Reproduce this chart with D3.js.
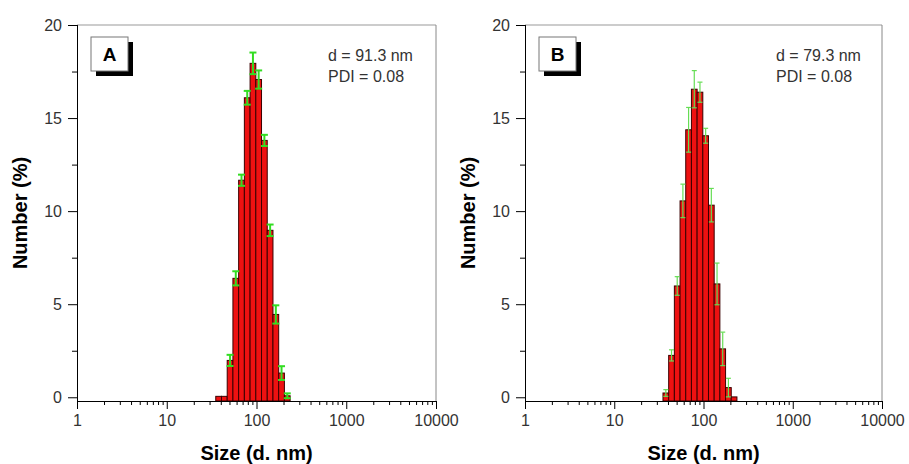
<!DOCTYPE html>
<html>
<head>
<meta charset="utf-8">
<script src="https://cdn.jsdelivr.net/npm/d3@7"></script>
<style>
  body { margin: 0; background: #fff; }
  svg { font-family: "Liberation Sans", Arial, sans-serif; }
</style>
</head>
<body>
<div id="chart"></div>
<script>
// ----- Data ----- //

// size bins (d. nm), same for both samples
const sizes = [37.84, 43.82, 50.75, 58.77, 68.06, 78.82, 91.28, 105.7, 122.4, 141.8, 164.2, 190.1, 220.2];

// sample A
const numberA = [0.05, 0.05, 1.98, 6.39, 11.66, 16.09, 17.94, 17.07, 13.8, 8.97, 4.45, 1.3, 0.08];
const errorA = [0, 0, 0.3, 0.38, 0.3, 0.37, 0.58, 0.49, 0.3, 0.31, 0.49, 0.37, 0.13];

// sample B
const numberB = [0.23, 2.25, 5.98, 10.55, 14.37, 16.55, 16.39, 14.05, 10.32, 6.09, 2.6, 0.52, 0.02];
const errorB = [0.18, 0.3, 0.5, 0.9, 1.2, 1.0, 0.54, 0.4, 0.9, 1.12, 0.9, 0.5, 0];

const xTicks = [1, 10, 100, 1000, 10000];
const yTicks = [0, 5, 10, 15, 20];
const panelLetters = ["A", "B"];
const diameters = ["d = 91.3 nm", "d = 79.3 nm"];
const pdis = ["PDI = 0.08", "PDI = 0.08"];

// ----- Layout ----- //

const svg = d3.select('#chart').append('svg')
    .attr('width', 909)
    .attr('height', 464);

const panels = [
  {left: 77, right: 436, values: numberA, errors: errorA, errColor: '#33dd22', errWidth: 2, cap: 7},
  {left: 525, right: 882, values: numberB, errors: errorB, errColor: '#66dd55', errWidth: 1.2, cap: 5}
];
const plotTop = 25, plotBottom = 401;

// half a bin in log units, so bars touch each other
const halfStep = Math.log10(sizes[1] / sizes[0]) / 2;

function createGraph(p, i) {

  const x = d3.scaleLog()
      .domain([1, 10000])
      .range([p.left, p.right]);

  const y = d3.scaleLinear()
      .domain([-0.2, 20])
      .range([plotBottom, plotTop]);

  const g = svg.append('g');

  // frame (top and right in grey)
  g.append('line')
      .attr('x1', p.left).attr('x2', p.right)
      .attr('y1', plotTop).attr('y2', plotTop)
      .attr('stroke', '#999');
  g.append('line')
      .attr('x1', p.right).attr('x2', p.right)
      .attr('y1', plotTop).attr('y2', plotBottom)
      .attr('stroke', '#888');

  // bars
  g.selectAll('rect.bar')
      .data(p.values)
      .enter()
      .append('rect')
      .attr('class', 'bar')
      .attr('x', (d, j) => x(sizes[j] / Math.pow(10, halfStep)))
      .attr('width', (d, j) => x(sizes[j] * Math.pow(10, halfStep)) - x(sizes[j] / Math.pow(10, halfStep)))
      .attr('y', d => y(d))
      .attr('height', d => y(-0.2) - y(d))
      .attr('fill', '#ee1111')
      .attr('stroke', '#3a0000')
      .attr('stroke-width', 1);

  // error bars
  const errs = g.selectAll('g.err')
      .data(p.values.map((d, j) => ({v: d, e: p.errors[j], s: sizes[j]})).filter(d => d.e > 0))
      .enter()
      .append('g')
      .attr('class', 'err')
      .attr('stroke', p.errColor)
      .attr('stroke-width', p.errWidth);

  errs.append('line')
      .attr('x1', d => x(d.s)).attr('x2', d => x(d.s))
      .attr('y1', d => y(d.v + d.e)).attr('y2', d => y(d.v - d.e));
  errs.append('line')
      .attr('x1', d => x(d.s) - p.cap / 2).attr('x2', d => x(d.s) + p.cap / 2)
      .attr('y1', d => y(d.v + d.e)).attr('y2', d => y(d.v + d.e));
  errs.append('line')
      .attr('x1', d => x(d.s) - p.cap / 2).attr('x2', d => x(d.s) + p.cap / 2)
      .attr('y1', d => y(d.v - d.e)).attr('y2', d => y(d.v - d.e));

  // X axis : minor ticks first, then the decades
  const minor = [];
  for (let dec = 1; dec < 10000; dec *= 10) {
    for (let k = 2; k <= 9; k++) minor.push(dec * k);
  }
  const axisXMinor = d3.axisBottom(x).tickValues(minor).tickSize(4).tickFormat('');
  const axisX = d3.axisBottom(x).tickValues(xTicks).tickSize(8).tickPadding(6).tickFormat(d3.format('d'));

  g.append('g').attr('transform', `translate(0, ${plotBottom})`).call(axisXMinor)
      .call(s => s.select('.domain').remove());
  const gx = g.append('g').attr('transform', `translate(0, ${plotBottom})`).call(axisX);
  gx.select('.domain').attr('d', `M${p.left},0.5H${p.right}`);
  gx.selectAll('text')
      .style('font-size', '16px')
      .attr('fill', '#333');

  // Y axis
  const yMinor = [2.5, 7.5, 12.5, 17.5];
  const axisYMinor = d3.axisLeft(y).tickValues(yMinor).tickSize(5).tickFormat('');
  const axisY = d3.axisLeft(y).tickValues(yTicks).tickSize(9).tickPadding(6);

  g.append('g').attr('transform', `translate(${p.left}, 0)`).call(axisYMinor)
      .call(s => s.select('.domain').remove());
  const gy = g.append('g').attr('transform', `translate(${p.left}, 0)`).call(axisY);
  gy.select('.domain').attr('d', `M0.5,${plotTop}V${plotBottom}`);
  gy.selectAll('text')
      .style('font-size', '16px')
      .attr('fill', '#333');

  // axis titles
  g.append('text')
      .attr('text-anchor', 'middle')
      .attr('x', (p.left + p.right) / 2)
      .attr('y', 460)
      .style('font-weight', 'bold')
      .style('font-size', '20px')
      .text('Size (d. nm)');

  g.append('text')
      .attr('text-anchor', 'middle')
      .attr('transform', `translate(${p.left - 50}, ${(plotTop + plotBottom) / 2}) rotate(-90)`)
      .style('font-weight', 'bold')
      .style('font-size', '20px')
      .text('Number (%)');

  // letter box with shadow
  const bx = p.left + 14, by = 37;
  g.append('rect')
      .attr('x', bx + 5).attr('y', by + 5)
      .attr('width', 37).attr('height', 34)
      .attr('fill', '#000');
  g.append('rect')
      .attr('x', bx).attr('y', by)
      .attr('width', 37).attr('height', 34)
      .attr('fill', '#fff')
      .attr('stroke', '#777');
  g.append('text')
      .attr('text-anchor', 'middle')
      .attr('x', bx + 18.5)
      .attr('y', by + 24)
      .style('font-weight', 'bold')
      .style('font-size', '19px')
      .text(panelLetters[i]);

  // size and PDI
  g.append('text')
      .attr('x', p.left + 251)
      .attr('y', 61)
      .attr('fill', '#333')
      .style('font-size', '16px')
      .text(diameters[i]);
  g.append('text')
      .attr('x', p.left + 251)
      .attr('y', 82)
      .attr('fill', '#333')
      .style('font-size', '16px')
      .text(pdis[i]);
}

panels.forEach(createGraph);
</script>
</body>
</html>
